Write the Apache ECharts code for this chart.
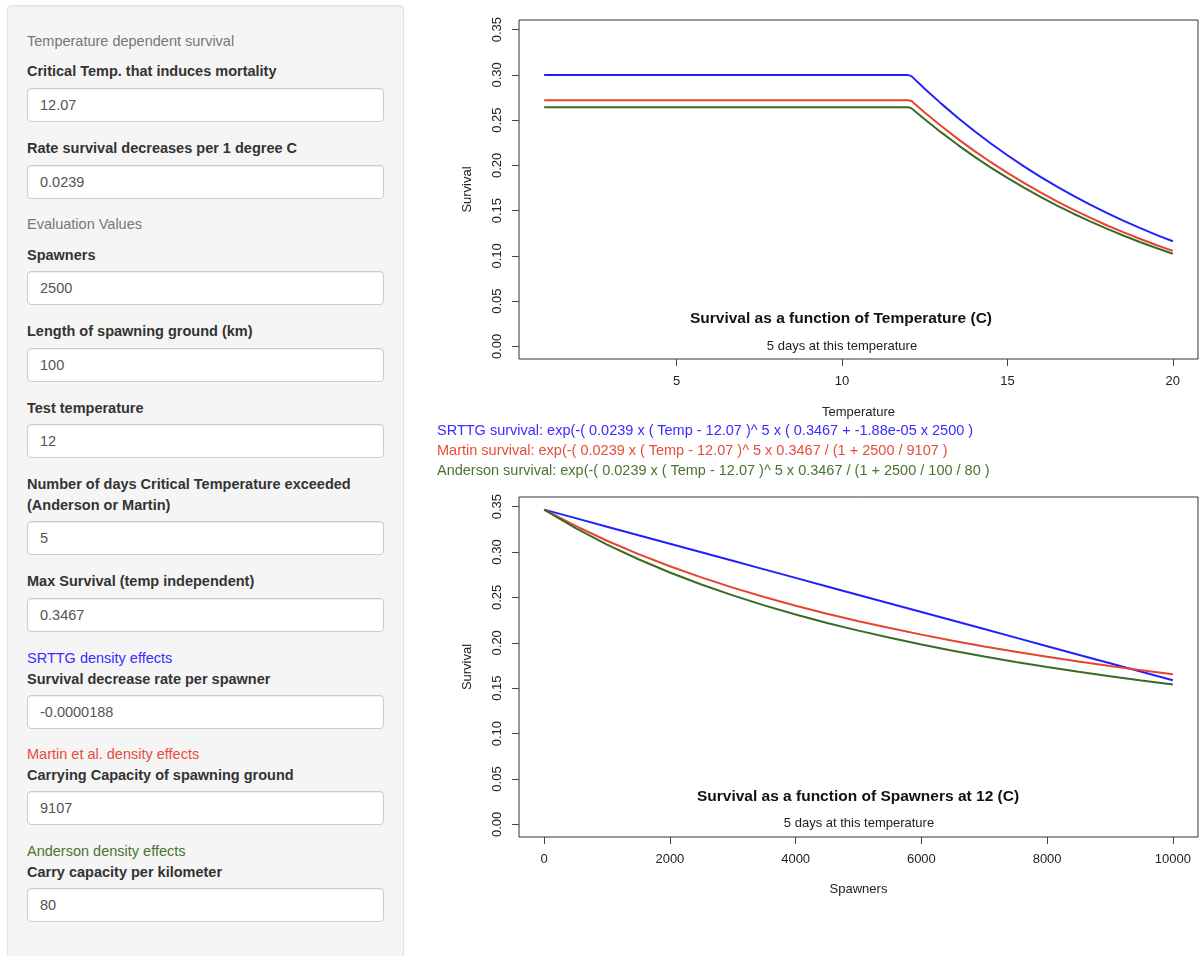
<!DOCTYPE html>
<html>
<head>
<meta charset="utf-8">
<title>Survival</title>
<script src="https://cdn.jsdelivr.net/npm/echarts@6/dist/echarts.min.js"></script>
<style>
  html, body { margin: 0; padding: 0; background: #fff; }
  body { width: 1199px; height: 956px; position: relative; overflow: hidden;
         font-family: "Liberation Sans", Arial, sans-serif; font-size: 14.5px; color: #333; }
  .well { position: absolute; left: 7px; top: 5px; width: 395px; height: 990px;
          background: #f5f5f5; border: 1px solid #e3e3e3; border-radius: 4px;
          box-shadow: inset 0 1px 1px rgba(0,0,0,.05); }
  .t { position: absolute; left: 27px; line-height: 20px; white-space: nowrap; }
  .hd { color: #777; }
  .lb { font-weight: bold; color: #333; line-height: 21px; }
  .inp { position: absolute; left: 27px; width: 331px; height: 32px; padding: 0 12px;
         background: #fff; border: 1px solid #ccc; border-radius: 4px; line-height: 32px;
         color: #555; box-shadow: inset 0 1px 1px rgba(0,0,0,.075); }
  #chart { position: absolute; left: 420px; top: 0; width: 779px; height: 956px; }
  .formula { position: absolute; left: 437px; top: 420px; line-height: 20px; white-space: nowrap; z-index: 2; }
</style>
</head>
<body>
<div class="well"></div>
<div class="t hd" style="top:31px">Temperature dependent survival</div>
<div class="t lb" style="top:61px">Critical Temp. that induces mortality</div>
<div class="inp" style="top:88px">12.07</div>
<div class="t lb" style="top:138px">Rate survival decreases per 1 degree C</div>
<div class="inp" style="top:165px">0.0239</div>
<div class="t hd" style="top:214px">Evaluation Values</div>
<div class="t lb" style="top:245px">Spawners</div>
<div class="inp" style="top:271px">2500</div>
<div class="t lb" style="top:321px">Length of spawning ground (km)</div>
<div class="inp" style="top:348px">100</div>
<div class="t lb" style="top:398px">Test temperature</div>
<div class="inp" style="top:424px">12</div>
<div class="t lb" style="top:474px">Number of days Critical Temperature exceeded<br>(Anderson or Martin)</div>
<div class="inp" style="top:521px">5</div>
<div class="t lb" style="top:571px">Max Survival (temp independent)</div>
<div class="inp" style="top:598px">0.3467</div>
<div class="t" style="top:648px;color:#3a2bff">SRTTG density effects</div>
<div class="t lb" style="top:669px">Survival decrease rate per spawner</div>
<div class="inp" style="top:695px">-0.0000188</div>
<div class="t" style="top:744px;color:#e74c3c">Martin et al. density effects</div>
<div class="t lb" style="top:765px">Carrying Capacity of spawning ground</div>
<div class="inp" style="top:791px">9107</div>
<div class="t" style="top:841px;color:#4a7330">Anderson density effects</div>
<div class="t lb" style="top:862px">Carry capacity per kilometer</div>
<div class="inp" style="top:888px">80</div>

<div id="chart"></div>
<div class="formula">
  <div style="color:#3a2bff">SRTTG survival: exp(-( 0.0239 x ( Temp - 12.07 )^ 5 x ( 0.3467 + -1.88e-05 x 2500 )</div>
  <div style="color:#e74c3c">Martin survival: exp(-( 0.0239 x ( Temp - 12.07 )^ 5 x 0.3467 / (1 + 2500 / 9107 )</div>
  <div style="color:#4a7330">Anderson survival: exp(-( 0.0239 x ( Temp - 12.07 )^ 5 x 0.3467 / (1 + 2500 / 100 / 80 )</div>
</div>

<script>
// survival vs temperature (5 days at temp)
const tempC = [1, 2, 3, 4, 5, 6, 7, 8, 9, 10, 11, 12, 12.1,
  12.5, 13, 13.5, 14, 14.5, 15, 15.5, 16, 16.5, 17, 17.5, 18, 18.5, 19, 19.5, 20]
const srttgByTemp = [0.2997, 0.2997, 0.2997, 0.2997, 0.2997, 0.2997, 0.2997, 0.2997, 0.2997, 0.2997, 0.2997, 0.2997, 0.2986,
  0.2847, 0.2682, 0.2526, 0.2380, 0.2242, 0.2112, 0.1989, 0.1874, 0.1765, 0.1663, 0.1566, 0.1476, 0.1390, 0.1309, 0.1233, 0.1162]
const martinByTemp = [0.2720, 0.2720, 0.2720, 0.2720, 0.2720, 0.2720, 0.2720, 0.2720, 0.2720, 0.2720, 0.2720, 0.2720, 0.2711,
  0.2584, 0.2434, 0.2293, 0.2160, 0.2035, 0.1917, 0.1806, 0.1701, 0.1602, 0.1509, 0.1422, 0.1339, 0.1262, 0.1189, 0.1120, 0.1055]
const andersonByTemp = [0.2642, 0.2642, 0.2642, 0.2642, 0.2642, 0.2642, 0.2642, 0.2642, 0.2642, 0.2642, 0.2642, 0.2642, 0.2632,
  0.2509, 0.2364, 0.2227, 0.2097, 0.1976, 0.1861, 0.1753, 0.1652, 0.1556, 0.1466, 0.1381, 0.1301, 0.1225, 0.1154, 0.1087, 0.1024]

// survival vs spawners at 12 C
const spawners = [0, 500, 1000, 1500, 2000, 2500, 3000, 3500, 4000, 4500, 5000,
  5500, 6000, 6500, 7000, 7500, 8000, 8500, 9000, 9500, 10000]
const srttgBySpawners = [0.3467, 0.3373, 0.3279, 0.3185, 0.3091, 0.2997, 0.2903, 0.2809, 0.2715, 0.2621, 0.2527,
  0.2433, 0.2339, 0.2245, 0.2151, 0.2057, 0.1963, 0.1869, 0.1775, 0.1681, 0.1587]
const martinBySpawners = [0.3467, 0.3287, 0.3124, 0.2977, 0.2843, 0.2720, 0.2608, 0.2505, 0.2409, 0.2320, 0.2238,
  0.2162, 0.2090, 0.2023, 0.1960, 0.1901, 0.1846, 0.1793, 0.1744, 0.1697, 0.1653]
const andersonBySpawners = [0.3467, 0.3263, 0.3082, 0.2920, 0.2774, 0.2642, 0.2522, 0.2412, 0.2311, 0.2219, 0.2134,
  0.2055, 0.1981, 0.1913, 0.1849, 0.1789, 0.1734, 0.1681, 0.1632, 0.1585, 0.1541]

const tempTicks = [5, 10, 15, 20]
const spawnerTicks = [0, 2000, 4000, 6000, 8000, 10000]
const survivalTicks = [0, 0.05, 0.10, 0.15, 0.20, 0.25, 0.30, 0.35]

const colors = { srttg: '#2020ff', martin: '#e8432e', anderson: '#386b24' }
const FONT = 'Liberation Sans'

const zip = (xs, ys) => xs.map((x, i) => [x, ys[i]])

const chart = echarts.init(document.getElementById('chart'), null, { renderer: 'canvas' })

function xAxisOf (idx, min, max, ticks, name, gap) {
  return {
    type: 'value',
    gridIndex: idx,
    min: min,
    max: max,
    name: name,
    nameLocation: 'middle',
    nameGap: gap,
    nameTextStyle: { fontFamily: FONT, fontSize: 13, color: '#222' },
    axisLine: { show: false, onZero: false },
    axisTick: { show: true, length: 7, customValues: ticks, lineStyle: { color: '#444' } },
    axisLabel: { customValues: ticks, margin: 16, fontFamily: FONT, fontSize: 13, color: '#222',
      formatter: v => String(v) },
    splitLine: { show: false }
  }
}

function yAxisOf (idx) {
  return {
    type: 'value',
    gridIndex: idx,
    min: -0.013868,
    max: 0.360568,
    name: 'Survival',
    nameLocation: 'middle',
    nameRotate: 90,
    nameGap: 45,
    nameTextStyle: { fontFamily: FONT, fontSize: 13, color: '#222' },
    axisLine: { show: false, onZero: false },
    axisTick: { show: true, length: 7, customValues: survivalTicks, lineStyle: { color: '#444' } },
    axisLabel: { customValues: survivalTicks, rotate: 90, margin: 15, fontFamily: FONT, fontSize: 13, color: '#222',
      formatter: v => v.toFixed(2) },
    splitLine: { show: false }
  }
}

function lineOf (name, idx, data, color) {
  return {
    name: name,
    type: 'line',
    xAxisIndex: idx,
    yAxisIndex: idx,
    data: data,
    symbol: 'none',
    silent: true,
    lineStyle: { width: 2, color: color }
  }
}

function label (x, y, text, size, bold) {
  return {
    type: 'text',
    x: x,
    y: y,
    silent: true,
    style: { text: text, fontFamily: FONT, fontSize: size, fontWeight: bold ? 'bold' : 'normal',
      fill: bold ? '#111' : '#222', align: 'center', verticalAlign: 'middle' }
  }
}

chart.setOption({
  animation: false,
  grid: [
    { left: 99, top: 20, width: 679, height: 339, show: true, borderColor: '#333', borderWidth: 1, backgroundColor: 'transparent' },
    { left: 99, top: 497, width: 679, height: 340, show: true, borderColor: '#333', borderWidth: 1, backgroundColor: 'transparent' }
  ],
  xAxis: [
    xAxisOf(0, 0.24, 20.76, tempTicks, 'Temperature', 47),
    xAxisOf(1, -400, 10400, spawnerTicks, 'Spawners', 46)
  ],
  yAxis: [yAxisOf(0), yAxisOf(1)],
  series: [
    lineOf('SRTTG', 0, zip(tempC, srttgByTemp), colors.srttg),
    lineOf('Martin', 0, zip(tempC, martinByTemp), colors.martin),
    lineOf('Anderson', 0, zip(tempC, andersonByTemp), colors.anderson),
    lineOf('SRTTG', 1, zip(spawners, srttgBySpawners), colors.srttg),
    lineOf('Martin', 1, zip(spawners, martinBySpawners), colors.martin),
    lineOf('Anderson', 1, zip(spawners, andersonBySpawners), colors.anderson)
  ],
  graphic: [
    label(421, 319, 'Survival as a function of Temperature (C)', 15.5, true),
    label(422, 346, '5 days at this temperature', 13, false),
    label(438, 797, 'Survival as a function of Spawners at 12 (C)', 15.5, true),
    label(439, 823, '5 days at this temperature', 13, false)
  ]
})
</script>
</body>
</html>
